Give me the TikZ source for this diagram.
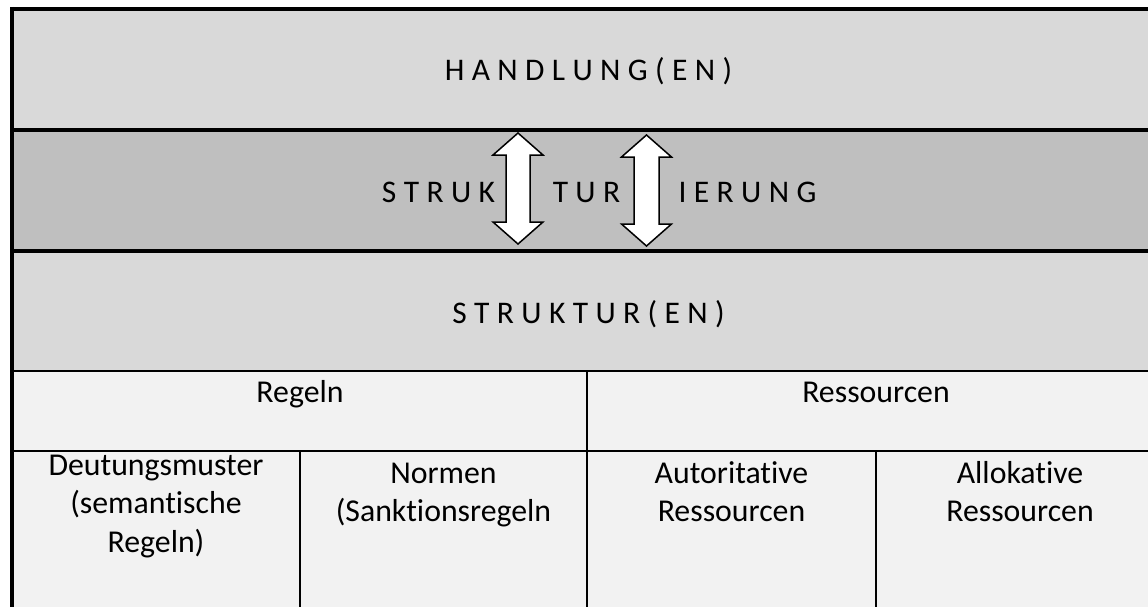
\documentclass[tikz,border=0pt]{standalone}
\usepackage{fontspec}
\setmainfont{Carlito}[Ligatures={NoCommon}]
\definecolor{rowlight}{HTML}{D9D9D9}
\definecolor{rowdark}{HTML}{BFBFBF}
\definecolor{cellfill}{HTML}{F2F2F2}
\newcommand\cellstack[1]{\begin{tabular}[t]{@{}c@{}}#1\end{tabular}}
\tikzset{
  thickline/.style={line width=4pt},
  thinline/.style={line width=2pt},
  spacedtext/.style={anchor=base, inner sep=0pt, font={\fontsize{31.5}{38.5}\selectfont\spaceskip=7.4pt\relax}},
  celltext/.style={anchor=base, inner sep=0pt, font={\fontsize{31.8}{38.5}\selectfont}},
  blockarrow/.style={fill=white, draw=black, line width=1.5pt, line join=miter}
}
\begin{document}
\begin{tikzpicture}[x=1pt,y=-1pt]
\useasboundingbox (0,0) rectangle (1148,607);
\fill[white] (0,0) rectangle (1148,607);
\begin{scope}
\clip (0,0) rectangle (1148,607);
% row fills
\fill[rowlight] (12,9) rectangle (1165,130);
\fill[rowdark] (12,130) rectangle (1165,251);
\fill[rowlight] (12,251) rectangle (1165,371);
\fill[cellfill] (12,371) rectangle (1165,607);
% thin lines
\draw[thinline] (12,371) -- (1165,371);
\draw[thinline] (12,451) -- (1165,451);
\draw[thinline] (587,371) -- (587,607);
\draw[thinline] (300,451) -- (300,607);
\draw[thinline] (876,451) -- (876,607);
% thick lines
\draw[thickline] (12,130) -- (1165,130);
\draw[thickline] (12,251) -- (1165,251);
\draw[thickline] (10,9) -- (1165,9);
\draw[thickline] (12,7) -- (12,607);
\end{scope}
% texts
\node[spacedtext] (handlung) at (588.5,81) {H A N D L U N G ( E N )};
\node[spacedtext] (struk) at (438.5,202) {S T R U K};
\node[spacedtext] (tur) at (586.5,202) {T U R};
\node[spacedtext] (ierung) at (747.5,202) {I E R U N G};
\node[spacedtext] (struktur) at (588.5,323) {S T R U K T U R ( E N )};
\node[celltext] (regeln) at (300,402.5) {Regeln};
\node[celltext] (ressourcen) at (876,402.5) {Ressourcen};
\node[celltext] (deutung) at (156,475) {\cellstack{Deutungsmuster\\(semantische\\Regeln)}};
\node[celltext] (normen) at (443.5,483) {\cellstack{Normen\\(Sanktionsregeln}};
\node[celltext] (autor) at (731.5,483) {\cellstack{Autoritative\\Ressourcen}};
\node[celltext] (allok) at (1020,483) {\cellstack{Allokative\\Ressourcen}};
% double arrows
\draw[blockarrow] (518,133) -- (543,155) -- (530,155) -- (530,222) -- (543,222)
  -- (518,244) -- (493,222) -- (506,222) -- (506,155) -- (493,155) -- cycle;
\draw[blockarrow] (646.5,135) -- (671.5,157) -- (659,157) -- (659,224) -- (671.5,224)
  -- (646.5,246) -- (621.5,224) -- (634,224) -- (634,157) -- (621.5,157) -- cycle;
\end{tikzpicture}
\end{document}
